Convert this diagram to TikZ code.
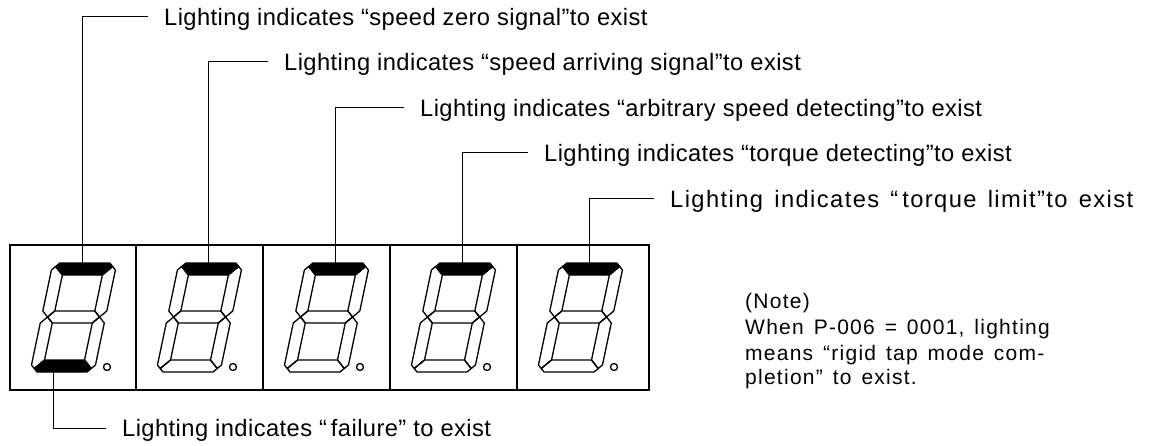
\documentclass[tikz,border=0pt]{standalone}
\usepackage{fontspec}
\setmainfont{Liberation Sans}[LetterSpace=1.8]
\newfontfamily\widefont{Liberation Sans}[LetterSpace=6, WordSpace=1.4]
\begin{document}
% seven-segment geometry (upright frame, slanted afterwards)
\def\sgW{64}\def\sgH{109}\def\sgT{12}\def\sgC{7}\def\sgM{55}
\tikzset{
  frame/.style={line width=1.5pt},
  seg/.style={line width=1.3pt, line join=round},
  lit/.style={fill=black},
  leader/.style={line width=1pt, shorten >=16pt},
  label/.style={anchor=west, inner sep=0pt, text height=17pt, text depth=0pt,
    font=\fontsize{23.7}{28}\selectfont},
  widelabel/.style={label, font=\widefont\fontsize{23.7}{28}\selectfont},
  note/.style={anchor=base west, inner sep=0pt, font=\widefont\fontsize{21}{25}\selectfont}
}
% one digit: #1 name, #2 cell left edge, #3 style of top bar, #4 style of bottom bar
\newcommand\digitcell[4]{%
  \begin{scope}[shift={(#2+20,73)}, xslant=0.21]
    % top bar
    \draw[seg,#3] (\sgC/2,\sgH-\sgC/2) -- (\sgC,\sgH) -- (\sgW-\sgC,\sgH) -- (\sgW-\sgC/2,\sgH-\sgC/2)
      -- (\sgW-\sgT,\sgH-\sgT) -- (\sgT,\sgH-\sgT) -- cycle;
    % upper left and upper right
    \draw[seg] (0,\sgH-\sgC) -- (\sgC/2,\sgH-\sgC/2) -- (\sgT,\sgH-\sgT) -- (\sgT,\sgM+\sgT/2)
      -- (\sgT/2,\sgM) -- (0,\sgM+\sgT/2) -- cycle;
    \draw[seg] (\sgW,\sgH-\sgC) -- (\sgW-\sgC/2,\sgH-\sgC/2) -- (\sgW-\sgT,\sgH-\sgT) -- (\sgW-\sgT,\sgM+\sgT/2)
      -- (\sgW-\sgT/2,\sgM) -- (\sgW,\sgM+\sgT/2) -- cycle;
    % middle bar
    \draw[seg] (\sgT/2,\sgM) -- (\sgT,\sgM+\sgT/2) -- (\sgW-\sgT,\sgM+\sgT/2) -- (\sgW-\sgT/2,\sgM)
      -- (\sgW-\sgT,\sgM-\sgT/2) -- (\sgT,\sgM-\sgT/2) -- cycle;
    % lower left and lower right
    \draw[seg] (0,\sgM-\sgT/2) -- (\sgT/2,\sgM) -- (\sgT,\sgM-\sgT/2) -- (\sgT,\sgT)
      -- (\sgC/2,\sgC/2) -- (0,\sgC) -- cycle;
    \draw[seg] (\sgW,\sgM-\sgT/2) -- (\sgW-\sgT/2,\sgM) -- (\sgW-\sgT,\sgM-\sgT/2) -- (\sgW-\sgT,\sgT)
      -- (\sgW-\sgC/2,\sgC/2) -- (\sgW,\sgC) -- cycle;
    % bottom bar
    \draw[seg,#4] (\sgC/2,\sgC/2) -- (\sgT,\sgT) -- (\sgW-\sgT,\sgT) -- (\sgW-\sgC/2,\sgC/2)
      -- (\sgW-\sgC,0) -- (\sgC,0) -- cycle;
    \coordinate (#1t) at (30,\sgH);
    \coordinate (#1b) at (23,0);
  \end{scope}
  \draw[seg] (#2+97,78) circle (3.5);}
\begin{tikzpicture}[x=1pt,y=1pt]
\useasboundingbox (0,0) rectangle (1151,445);
% display frame
\draw[frame] (10,55) rectangle (649,200);
\foreach \xx in {136,263,390,517} \draw[frame] (\xx,55) -- (\xx,200);
% digits
\digitcell{d1}{10}{lit}{lit}
\digitcell{d2}{136}{lit}{}
\digitcell{d3}{263}{lit}{}
\digitcell{d4}{390}{lit}{}
\digitcell{d5}{517}{lit}{}
% labels
\node[label] (t1) at (164,428) {Lighting indicates “speed zero signal”to exist};
\node[label] (t2) at (284,383) {Lighting indicates “speed arriving signal”to exist};
\node[label] (t3) at (420,337) {Lighting indicates “arbitrary speed detecting”to exist};
\node[label] (t4) at (544,292) {Lighting indicates “torque detecting”to exist};
\node[widelabel] (t5) at (670,246) {Lighting indicates “\,torque limit”to exist};
\node[label] (tb) at (122,17) {Lighting indicates “\,failure” to exist};
% leaders
\draw[leader] (d1t) |- (t1.west);
\draw[leader] (d2t) |- (t2.west);
\draw[leader] (d3t) |- (t3.west);
\draw[leader] (d4t) |- (t4.west);
\draw[leader] (d5t) |- (t5.west);
\draw[leader] (d1b) |- (tb.west);
% note
\node[note] (n1) at (745,137) {(Note)};
\node[note] (n2) at (745,111) {When P-006 = 0001, lighting};
\node[note] (n3) at (745,85) {means “rigid tap mode com-};
\node[note] (n4) at (745,61) {pletion” to exist.};
\end{tikzpicture}
\end{document}
